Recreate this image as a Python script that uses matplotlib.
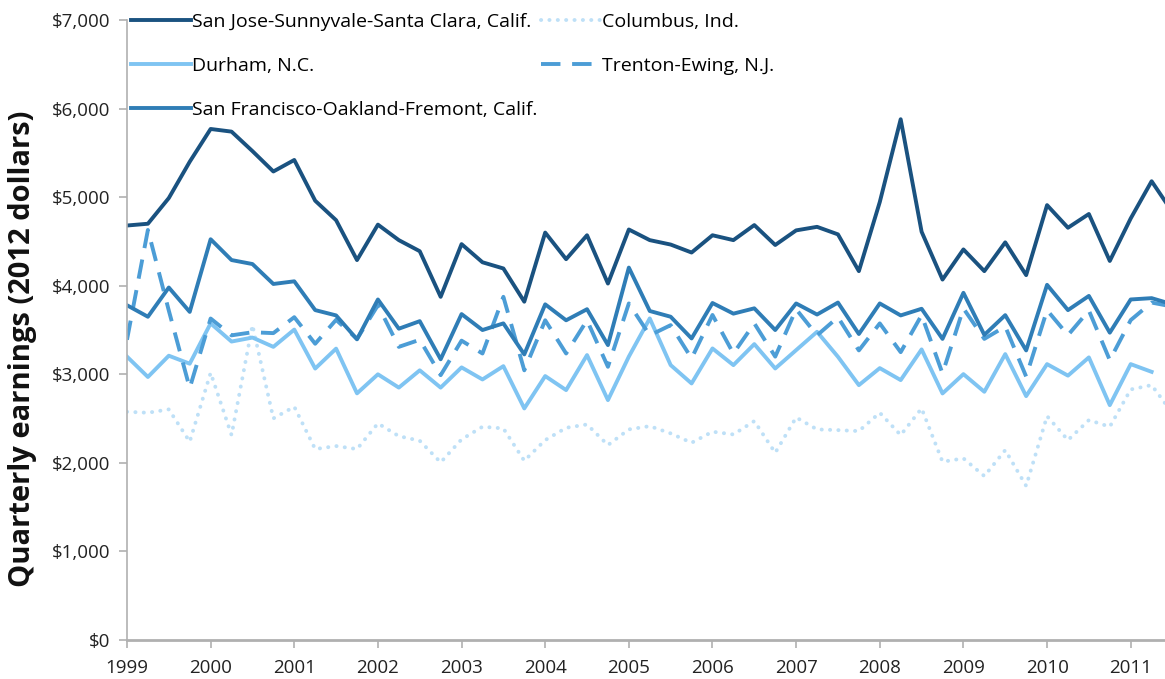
import matplotlib.pyplot as plt
import numpy as np
from matplotlib.ticker import FuncFormatter

# quarterly points, 1999Q1 onwards
san_jose = [4680, 4700, 4990, 5400, 5770, 5740, 5520, 5290, 5420, 4960, 4740, 4290, 4690,
            4515, 4390, 3875, 4470, 4265, 4195, 3820, 4600, 4300, 4570, 4025, 4635, 4515,
            4465, 4375, 4570, 4515, 4685, 4460, 4625, 4665, 4580, 4165, 4945, 5880, 4610,
            4070, 4410, 4165, 4490, 4120, 4910, 4655, 4810, 4280, 4760, 5180, 4830]
san_francisco = [3780, 3650, 3980, 3705, 4525, 4290, 4245, 4020, 4050, 3725, 3665, 3395, 3845,
                 3515, 3600, 3170, 3680, 3500, 3575, 3225, 3790, 3610, 3735, 3330, 4205, 3715,
                 3650, 3405, 3805, 3685, 3745, 3500, 3800, 3675, 3810, 3455, 3800, 3665, 3740,
                 3400, 3920, 3445, 3668, 3270, 4010, 3725, 3885, 3470, 3845, 3860, 3790]
trenton = [3390, 4630, 3720, 2845, 3630, 3440, 3475, 3465, 3645, 3345, 3615, 3400, 3780,
           3310, 3390, 2990, 3380, 3235, 3875, 3045, 3610, 3235, 3610, 3085, 3800, 3440,
           3555, 3180, 3670, 3235, 3575, 3200, 3735, 3440, 3645, 3270, 3575, 3250, 3668,
           3010, 3744, 3400, 3540, 2975, 3724, 3442, 3720, 3160, 3612, 3810, 3765]
durham = [3200, 2970, 3210, 3120, 3575, 3370, 3415, 3310, 3505, 3065, 3290, 2785, 3000,
          2850, 3045, 2850, 3078, 2942, 3092, 2615, 2980, 2822, 3217, 2709, 3200, 3631,
          3104, 2897, 3292, 3104, 3341, 3066, 3273, 3480, 3198, 2878, 3070, 2935, 3281,
          2784, 3002, 2803, 3228, 2754, 3115, 2985, 3191, 2652, 3115, 3028]
columbus = [2577, 2566, 2604, 2239, 3017, 2314, 3555, 2502, 2634, 2156, 2190, 2156, 2446,
            2302, 2250, 2006, 2265, 2408, 2389, 2024, 2257, 2396, 2434, 2201, 2378, 2415,
            2333, 2227, 2352, 2321, 2472, 2114, 2513, 2378, 2370, 2359, 2566, 2314, 2615,
            2013, 2051, 1851, 2144, 1740, 2528, 2257, 2483, 2408, 2829, 2878, 2560]

years = list(range(1999, 2012))

def quarters(vals):
    return 1999 + np.arange(len(vals)) * 0.25

plt.rcParams['font.family'] = ['Open Sans', 'DejaVu Sans']

fig = plt.figure(figsize=(11.65, 6.79), dpi=100)
ax = fig.add_axes([0.109, 0.0574, 0.891, 0.9131])

lw = 2.8
l_col, = ax.plot(quarters(columbus), columbus, color='#bee0f7', lw=lw,
                 linestyle=(0, (0.05, 2.1)), dash_capstyle='round',
                 label='Columbus, Ind.')
l_dur, = ax.plot(quarters(durham), durham, color='#7fc4f2', lw=lw, label='Durham, N.C.')
l_tre, = ax.plot(quarters(trenton), trenton, color='#4c9dd6', lw=lw,
                 linestyle=(0, (5, 3)), label='Trenton-Ewing, N.J.')
l_sf, = ax.plot(quarters(san_francisco), san_francisco, color='#2f7db6', lw=lw,
                label='San Francisco-Oakland-Fremont, Calif.')
l_sj, = ax.plot(quarters(san_jose), san_jose, color='#1a5280', lw=lw,
                label='San Jose-Sunnyvale-Santa Clara, Calif.')

ax.set_xlim(1999, 2011.41)
ax.set_ylim(0, 7000)
ax.set_xticks(years)
ax.set_xticklabels([str(y) for y in years])
ax.set_yticks(range(0, 7001, 1000))
ax.yaxis.set_major_formatter(FuncFormatter(lambda v, p: f'${int(v):,}'))

for s in ['top', 'right']:
    ax.spines[s].set_visible(False)
ax.spines['left'].set_color('#b0b0b0')
ax.spines['left'].set_linewidth(1.2)
ax.spines['bottom'].set_color('#b0b0b0')
ax.spines['bottom'].set_linewidth(2)
ax.tick_params(axis='y', colors='#b0b0b0', labelcolor='#222222', labelsize=13.5,
               length=6, width=1.2, pad=6)
ax.tick_params(axis='x', colors='#b0b0b0', labelcolor='#222222', labelsize=13.5,
               length=6, width=1.2, pad=8)

ax.set_ylabel('Quarterly earnings (2012 dollars)', fontsize=21, fontweight='bold',
              color='#111111')
ax.yaxis.set_label_coords(-0.087, 0.47)

ax.legend(handles=[l_sj, l_dur, l_sf, l_col, l_tre], ncol=2, loc='upper left',
          bbox_to_anchor=(-0.004, 1.024), frameon=False, fontsize=14,
          handlelength=3.1, handletextpad=0.05, labelspacing=1.33,
          columnspacing=0.2, borderaxespad=0)

fig.savefig('out.png', dpi=100)
